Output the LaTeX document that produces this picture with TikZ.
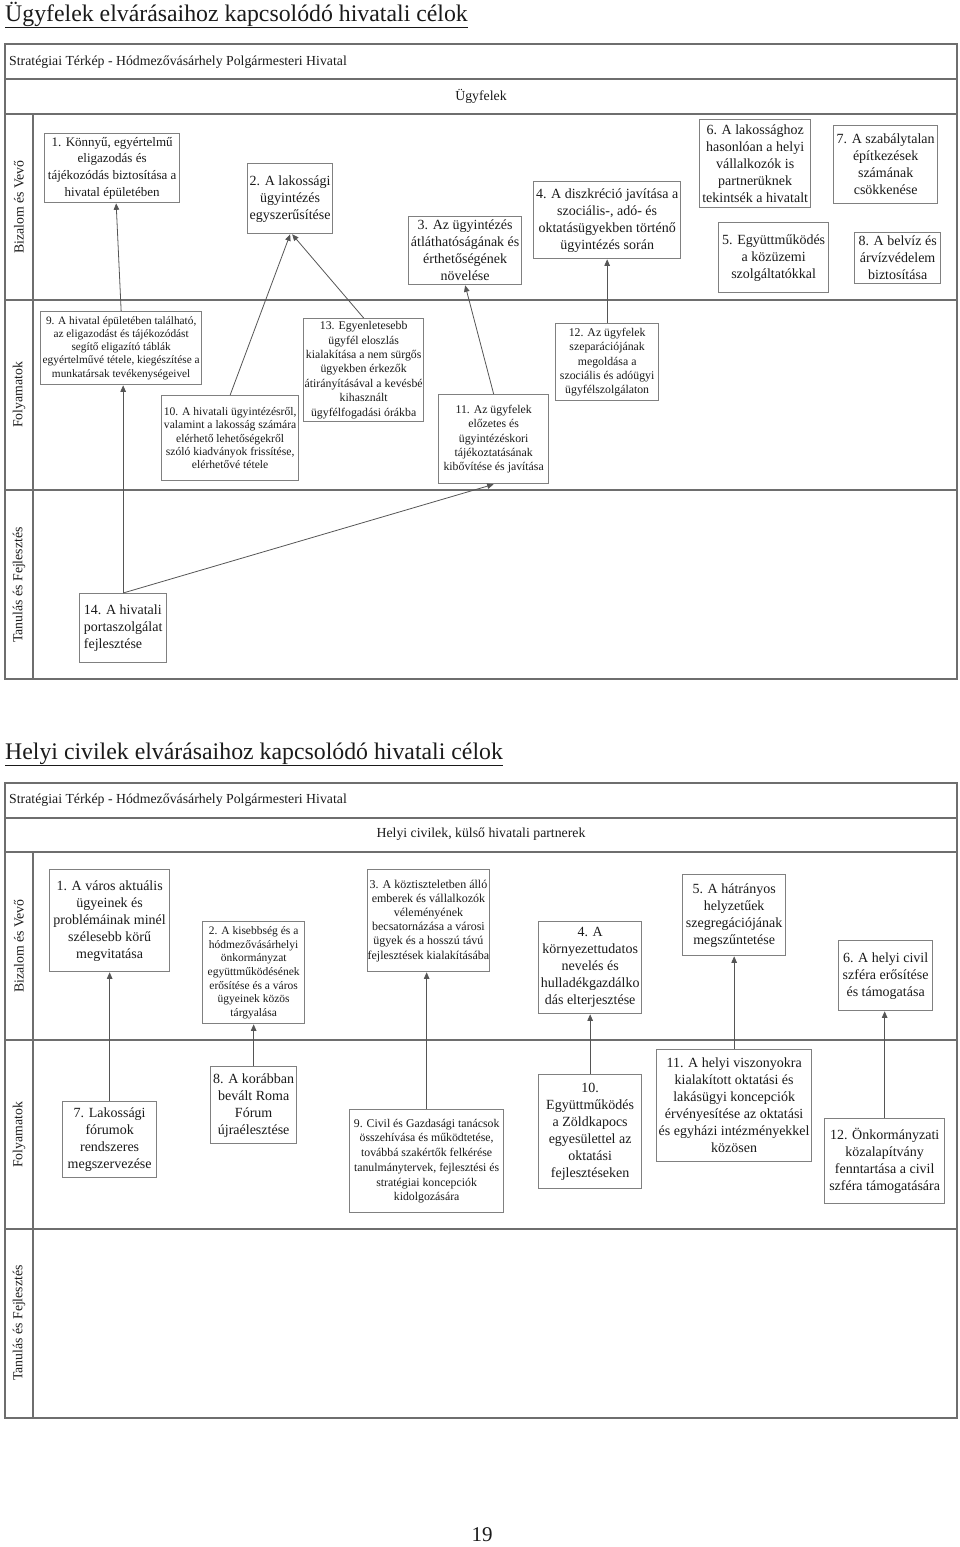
\documentclass[tikz,border=0pt]{standalone}
\usepackage{fontspec}
\setmainfont{Liberation Serif}
\usetikzlibrary{arrows.meta}
\definecolor{boxgray}{HTML}{808080}
\definecolor{linegray}{HTML}{555555}
\definecolor{framegray}{HTML}{6E6E6E}
\definecolor{txt}{HTML}{1A1A1A}
\begin{document}
\begin{tikzpicture}[x=1pt,y=-1pt,
  bx/.style={draw=boxgray,line width=1.3pt,fill=white,align=center,inner sep=0pt,anchor=north west,text=txt},
  big/.style={font=\fontsize{14}{17}\selectfont},
  mid/.style={font=\fontsize{11.8}{14.4}\selectfont},
  small/.style={font=\fontsize{11.3}{13.1}\selectfont},
  conn/.style={draw=linegray,line width=0.8pt,-{Triangle[length=6.5pt,width=5.5pt]}},
  frame/.style={draw=framegray,line width=1.3pt},
  lane/.style={rotate=90,font=\fontsize{13.8}{16}\selectfont,text=txt},
  hdr/.style={font=\fontsize{13.8}{16}\selectfont,text=txt},
  ttl/.style={font=\fontsize{23.8}{28}\selectfont,text=txt,inner sep=0pt,anchor=base west},
]
\useasboundingbox (0,0) rectangle (960,1547);

% ================= TOP DIAGRAM =================
\node[ttl] (title1) at (5,21) {\underline{Ügyfelek elvárásaihoz kapcsolódó hivatali célok}};
\draw[frame] (5,44) rectangle (957,679);
\draw[frame] (5,79) -- (957,79);
\draw[frame] (5,114) -- (957,114);
\draw[frame] (5,300) -- (957,300);
\draw[frame] (5,490) -- (957,490);
\draw[frame] (33,114) -- (33,679);
\node[hdr,anchor=base west,inner sep=0pt] (head1) at (9,65) {Stratégiai Térkép - Hódmezővásárhely Polgármesteri Hivatal};
\node[hdr] (pers1) at (481,96) {Ügyfelek};
\node[lane] (l11) at (19,207) {Bizalom és Vevő};
\node[lane] (l12) at (19,395) {Folyamatok};
\node[lane] (l13) at (19,585) {Tanulás és Fejlesztés};

\node[bx,font=\fontsize{13}{16.7}\selectfont,minimum width=135pt,minimum height=69pt] (t1) at (44,133)
  {1. Könnyű, egyértelmű\\eligazodás és\\tájékozódás biztosítása a\\hivatal épületében};
\node[bx,big,minimum width=85pt,minimum height=70pt] (t2) at (247,163)
  {2. A lakossági\\ügyintézés\\egyszerűsítése};
\node[bx,big,minimum width=113pt,minimum height=68pt] (t3) at (408,216)
  {3. Az ügyintézés\\átláthatóságának és\\érthetőségének\\növelése};
\node[bx,big,minimum width=147pt,minimum height=77pt] (t4) at (533,181)
  {4. A diszkréció javítása a\\szociális-, adó- és\\oktatásügyekben történő\\ügyintézés során};
\node[bx,big,minimum width=110pt,minimum height=70pt] (t5) at (718,222)
  {5. Együttműködés\\a közüzemi\\szolgáltatókkal};
\node[bx,big,minimum width=111pt,minimum height=88pt] (t6) at (699,119)
  {6. A lakossághoz\\hasonlóan a helyi\\vállalkozók is\\partnerüknek\\tekintsék a hivatalt};
\node[bx,big,minimum width=104pt,minimum height=78pt] (t7) at (833,125)
  {7. A szabálytalan\\építkezések\\számának\\csökkenése};
\node[bx,big,minimum width=86pt,minimum height=51pt] (t8) at (854,232)
  {8. A belvíz és\\árvízvédelem\\biztosítása};

\node[bx,small,minimum width=161pt,minimum height=73pt] (t9) at (40,311)
  {9. A hivatal épületében található,\\az eligazodást és tájékozódást\\segítő eligazító táblák\\egyértelművé tétele, kiegészítése a\\munkatársak tevékenységeivel};
\node[bx,font=\fontsize{11.6}{13.4}\selectfont,minimum width=137pt,minimum height=85pt] (t10) at (161,395)
  {10. A hivatali ügyintézésről,\\valamint a lakosság számára\\elérhető lehetőségekről\\szóló kiadványok frissítése,\\elérhetővé tétele};
\node[bx,mid,minimum width=110pt,minimum height=89pt] (t11) at (438,394)
  {11. Az ügyfelek\\előzetes és\\ügyintézéskori\\tájékoztatásának\\kibővítése és javítása};
\node[bx,mid,minimum width=103pt,minimum height=77pt] (t12) at (555,323)
  {12. Az ügyfelek\\szeparációjának\\megoldása a\\szociális és adóügyi\\ügyfélszolgálaton};
\node[bx,mid,minimum width=120pt,minimum height=103pt] (t13) at (303,318)
  {13. Egyenletesebb\\ügyfél eloszlás\\kialakítása a nem sürgős\\ügyekben érkezők\\átirányításával a kevésbé\\kihasznált\\ügyfélfogadási órákba};
\node[bx,big,align=left,minimum width=87pt,minimum height=69pt] (t14) at (79,593)
  {14. A hivatali\\portaszolgálat\\fejlesztése};

\draw[conn] (t14.north) -- (t14.north |- t9.south);
\draw[conn] (t14.north) -- (t11.south);
\draw[conn] (t9.north) -- ([xshift=4pt]t1.south);
\draw[conn] (t10.north) -- (t2.south);
\draw[conn] (t13.north) -- ([xshift=2pt]t2.south);
\draw[conn] (t11.north) -- (t3.south);
\draw[conn] (t12.north) -- (t12.north |- t4.south);

% ================= BOTTOM DIAGRAM =================
\node[ttl] (title2) at (5,759) {\underline{Helyi civilek elvárásaihoz kapcsolódó hivatali célok}};
\draw[frame] (5,783) rectangle (957,1418);
\draw[frame] (5,818) -- (957,818);
\draw[frame] (5,852) -- (957,852);
\draw[frame] (5,1040) -- (957,1040);
\draw[frame] (5,1229) -- (957,1229);
\draw[frame] (33,852) -- (33,1418);
\node[hdr,anchor=base west,inner sep=0pt] (head2) at (9,803) {Stratégiai Térkép - Hódmezővásárhely Polgármesteri Hivatal};
\node[hdr] (pers2) at (481,834) {Helyi civilek, külső hivatali partnerek};
\node[lane] (l21) at (19,946) {Bizalom és Vevő};
\node[lane] (l22) at (19,1135) {Folyamatok};
\node[lane] (l23) at (19,1323) {Tanulás és Fejlesztés};

\node[bx,big,minimum width=120pt,minimum height=102pt] (b1) at (49,869)
  {1. A város aktuális\\ügyeinek és\\problémáinak minél\\szélesebb körű\\megvitatása};
\node[bx,font=\fontsize{11.5}{13.7}\selectfont,minimum width=102pt,minimum height=102pt] (b2) at (202,921)
  {2. A kisebbség és a\\hódmezővásárhelyi\\önkormányzat\\együttműködésének\\erősítése és a város\\ügyeinek közös\\tárgyalása};
\node[bx,font=\fontsize{12}{14.2}\selectfont,minimum width=119pt,minimum height=102pt] (b3) at (367,869)
  {3. A köztiszteletben álló\\emberek és vállalkozók\\véleményének\\becsatornázása a városi\\ügyek és a hosszú távú\\fejlesztések kialakításába};
\node[bx,big,minimum width=103pt,minimum height=92pt] (b4) at (538,921)
  {4. A\\környezettudatos\\nevelés és\\hulladékgazdálko\\dás elterjesztése};
\node[bx,big,minimum width=103pt,minimum height=81pt] (b5) at (682,874)
  {5. A hátrányos\\helyzetűek\\szegregációjának\\megszűntetése};
\node[bx,big,minimum width=94pt,minimum height=70pt] (b6) at (838,940)
  {6. A helyi civil\\szféra erősítése\\és támogatása};

\node[bx,big,minimum width=94pt,minimum height=76pt] (b7) at (62,1101)
  {7. Lakossági\\fórumok\\rendszeres\\megszervezése};
\node[bx,big,minimum width=86pt,minimum height=77pt] (b8) at (210,1066)
  {8. A korábban\\bevált Roma\\Fórum\\újraélesztése};
\node[bx,font=\fontsize{11.8}{14.7}\selectfont,minimum width=154pt,minimum height=103pt] (b9) at (349,1109)
  {9. Civil és Gazdasági tanácsok\\összehívása és működtetése,\\továbbá szakértők felkérése\\tanulmánytervek, fejlesztési és\\stratégiai koncepciók\\kidolgozására};
\node[bx,big,minimum width=103pt,minimum height=114pt] (b10) at (538,1074)
  {10.\\Együttműködés\\a Zöldkapocs\\egyesülettel az\\oktatási\\fejlesztéseken};
\node[bx,big,minimum width=155pt,minimum height=112pt] (b11) at (656,1049)
  {11. A helyi viszonyokra\\kialakított oktatási és\\lakásügyi koncepciók\\érvényesítése az oktatási\\és egyházi intézményekkel\\közösen};
\node[bx,big,minimum width=120pt,minimum height=85pt] (b12) at (824,1118)
  {12. Önkormányzati\\közalapítvány\\fenntartása a civil\\szféra támogatására};

\draw[conn] (b7.north) -- (b7.north |- b1.south);
\draw[conn] (b8.north) -- (b8.north |- b2.south);
\draw[conn] (b9.north) -- (b9.north |- b3.south);
\draw[conn] (b10.north) -- (b10.north |- b4.south);
\draw[conn] (b11.north) -- (b11.north |- b5.south);
\draw[conn] (b12.north) -- (b12.north |- b6.south);

\node[font=\fontsize{21}{24}\selectfont,text=txt] (page) at (482,1535) {19};
\end{tikzpicture}
\end{document}
